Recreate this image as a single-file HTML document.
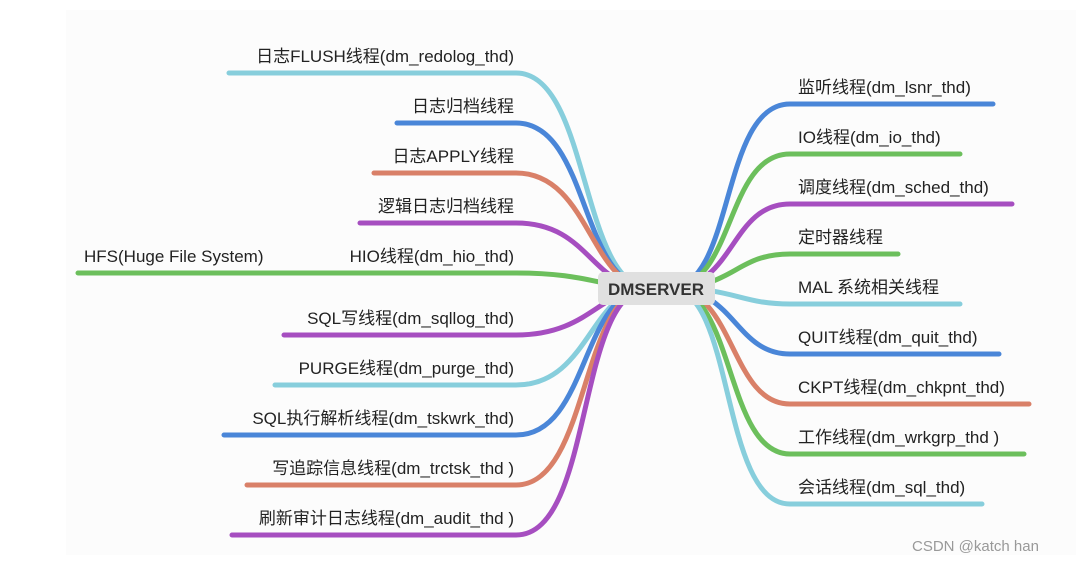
<!DOCTYPE html>
<html><head><meta charset="utf-8"><style>
body{margin:0;background:#fff;}
svg text{font-family:"Liberation Sans","Noto Sans CJK SC",sans-serif;font-size:17px;fill:#222;}
</style></head><body>
<svg width="1084" height="562" viewBox="0 0 1084 562" xmlns="http://www.w3.org/2000/svg">
<rect x="66" y="10" width="1010" height="545" fill="#fcfcfc"/>
<g fill="none" stroke-width="5" stroke-linecap="round">
<path d="M229 73 H516 C590 73 580 288 650 288" stroke="#87cedc"/>
<path d="M397 123 H516 C590 123 580 288 650 288" stroke="#4a86d8"/>
<path d="M374 173 H516 C590 173 590 288 650 288" stroke="#d98068"/>
<path d="M360 223 H516 C590 223 590 288 650 288" stroke="#a64ec0"/>
<path d="M78 273 H516 C590 273 600 288 650 288" stroke="#6cbf5c"/>
<path d="M284 335 H516 C590 335 600 288 650 288" stroke="#a64ec0"/>
<path d="M275 385 H516 C590 385 590 288 650 288" stroke="#87cedc"/>
<path d="M224 435 H516 C590 435 580 288 650 288" stroke="#4a86d8"/>
<path d="M247 485 H516 C590 485 580 288 650 288" stroke="#d98068"/>
<path d="M232 535 H516 C595 535 575 288 650 288" stroke="#a64ec0"/>
<path d="M670 288 C735 288 720 104 790 104 H993" stroke="#4a86d8"/>
<path d="M670 288 C735 288 725 154 790 154 H960" stroke="#6cbf5c"/>
<path d="M670 288 C735 288 730 204 790 204 H1012" stroke="#a64ec0"/>
<path d="M670 288 C735 288 735 254 790 254 H898" stroke="#6cbf5c"/>
<path d="M670 288 C735 288 740 304 790 304 H960" stroke="#87cedc"/>
<path d="M670 288 C735 288 735 354 790 354 H999" stroke="#4a86d8"/>
<path d="M670 288 C735 288 730 404 790 404 H1029" stroke="#d98068"/>
<path d="M670 288 C735 288 725 454 790 454 H1024" stroke="#6cbf5c"/>
<path d="M670 288 C735 288 720 504 790 504 H982" stroke="#87cedc"/>
</g>
<rect x="598" y="272" width="117" height="33" rx="5" fill="#e0e0e0"/>
<text x="656" y="295" text-anchor="middle" style="font-weight:bold;font-size:17px;fill:#333">DMSERVER</text>
<g text-anchor="end">
<text x="514" y="62">日志FLUSH线程(dm_redolog_thd)</text>
<text x="514" y="112">日志归档线程</text>
<text x="514" y="162">日志APPLY线程</text>
<text x="514" y="212">逻辑日志归档线程</text>
<text x="514" y="262">HIO线程(dm_hio_thd)</text>
<text x="514" y="324">SQL写线程(dm_sqllog_thd)</text>
<text x="514" y="374">PURGE线程(dm_purge_thd)</text>
<text x="514" y="424">SQL执行解析线程(dm_tskwrk_thd)</text>
<text x="514" y="474">写追踪信息线程(dm_trctsk_thd )</text>
<text x="514" y="524">刷新审计日志线程(dm_audit_thd )</text>
</g>
<text x="84" y="262">HFS(Huge File System)</text>
<text x="798" y="93">监听线程(dm_lsnr_thd)</text>
<text x="798" y="143">IO线程(dm_io_thd)</text>
<text x="798" y="193">调度线程(dm_sched_thd)</text>
<text x="798" y="243">定时器线程</text>
<text x="798" y="293">MAL 系统相关线程</text>
<text x="798" y="343">QUIT线程(dm_quit_thd)</text>
<text x="798" y="393">CKPT线程(dm_chkpnt_thd)</text>
<text x="798" y="443">工作线程(dm_wrkgrp_thd )</text>
<text x="798" y="493">会话线程(dm_sql_thd)</text>
<text x="912" y="551" style="font-size:15px;fill:#999">CSDN @katch han</text>
</svg>
</body></html>
